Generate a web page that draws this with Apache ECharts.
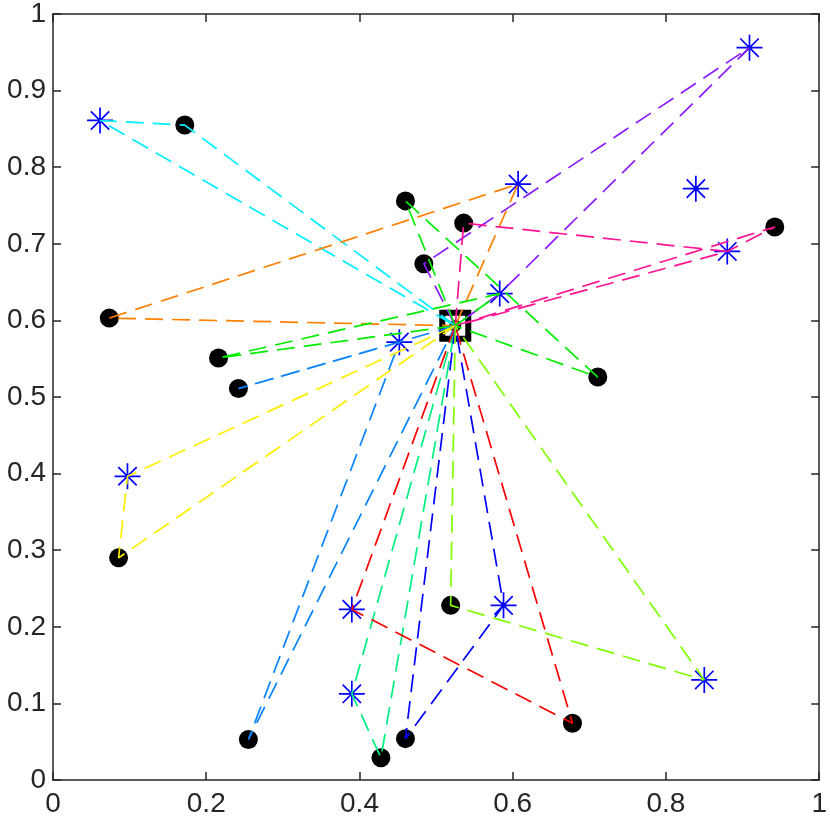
<!DOCTYPE html>
<html>
<head>
<meta charset="utf-8">
<script src="https://cdn.jsdelivr.net/npm/echarts@6/dist/echarts.min.js"></script>
<style>
html, body { margin: 0; padding: 0; background: #fff; }
#chart { width: 830px; height: 827px; }
</style>
</head>
<body>
<div id="chart"></div>
<script>
// depot
let depot = [0.525, 0.593];

// customers (black dots)
let custX = [0.172, 0.0735, 0.460, 0.536, 0.484, 0.216, 0.242, 0.711, 0.942, 0.0856, 0.519, 0.255, 0.460, 0.428, 0.678];
let custY = [0.855, 0.603, 0.756, 0.727, 0.674, 0.551, 0.511, 0.526, 0.722, 0.290, 0.228, 0.0528, 0.054, 0.029, 0.074];

// stations (blue asterisks)
let stationX = [0.0614, 0.909, 0.607, 0.839, 0.880, 0.583, 0.452, 0.0972, 0.390, 0.588, 0.390, 0.850];
let stationY = [0.861, 0.956, 0.778, 0.772, 0.690, 0.635, 0.5716, 0.3965, 0.2227, 0.228, 0.1125, 0.1306];

// routes: D = depot, cN = customer N, sN = station N
let routes = [
    ['D', 'c0', 's0', 'D'],
    ['D', 's2', 'c1', 'D'],
    ['D', 'c4', 's1', 's5', 'D'],
    ['D', 'c3', 's4', 'D', 'c8', 's4'],
    ['D', 'c2', 'c7', 'D'],
    ['D', 'c5', 's5', 'D'],
    ['D', 'c6', 's6', 'c11', 'D'],
    ['D', 's7', 'c9', 'D'],
    ['D', 's10', 'c13', 'D'],
    ['D', 's8', 'c14', 'D'],
    ['D', 'c12', 's9', 'D'],
    ['D', 'c10', 's11', 'D']
];
let routeColors = ['#00eeff', '#ff8000', '#8a1cff', '#ff1493', '#00ee00', '#00ee00',
                   '#0a84ff', '#ffee00', '#00f080', '#ff0000', '#0000ff', '#80ff00'];

// x ticks / y ticks
let xTicks = [0, 0.2, 0.4, 0.6, 0.8, 1];
let yTicks = [0, 0.1, 0.2, 0.3, 0.4, 0.5, 0.6, 0.7, 0.8, 0.9, 1];

function nodePos(id){
    if(id === 'D') return depot;
    let i = +id.slice(1);
    return id[0] === 'c' ? [custX[i], custY[i]] : [stationX[i], stationY[i]];
}

const txt = '#262626';
const fontFam = 'Liberation Sans, Arial, Helvetica, sans-serif';
const star = 'path://M0,-10L0,10M-10,0L10,0M-7.07,-7.07L7.07,7.07M-7.07,7.07L7.07,-7.07';

function axisBase(pos, ticks, showLabel){
    return {
        type: 'value',
        position: pos,
        min: 0,
        max: 1,
        interval: ticks[1] - ticks[0],
        axisLine: { show: true, onZero: false, lineStyle: { color: txt, width: 1.5 } },
        axisTick: { show: true, inside: true, length: 8, lineStyle: { color: txt, width: 1.5 } },
        splitLine: { show: false },
        axisLabel: {
            show: showLabel,
            color: txt,
            fontSize: 28,
            fontFamily: fontFam,
            margin: pos === 'left' ? 7 : 10,
            formatter: v => String(+v.toFixed(1))
        }
    };
}

let chart = echarts.init(document.getElementById('chart'));

let series = [];
series.push({
    type: 'scatter',
    data: custX.map((x, i) => [x, custY[i]]),
    symbol: 'circle',
    symbolSize: 19,
    itemStyle: { color: '#000', opacity: 1 },
    z: 2,
    silent: true
});
series.push({
    type: 'scatter',
    data: stationX.map((x, i) => [x, stationY[i]]),
    symbol: star,
    symbolSize: 26,
    itemStyle: { color: 'rgba(0,0,0,0)', borderColor: '#0000ff', borderWidth: 1.7, opacity: 1 },
    z: 2,
    silent: true
});
series.push({
    type: 'scatter',
    data: [depot],
    symbol: 'rect',
    symbolSize: 26,
    itemStyle: { color: '#fff', borderColor: '#000', borderWidth: 6, opacity: 1 },
    z: 3,
    silent: true
});
series.push({
    type: 'scatter',
    data: [depot],
    symbol: 'circle',
    symbolSize: 12,
    itemStyle: { color: '#000', opacity: 1 },
    z: 3,
    silent: true
});
routes.forEach((r, k) => {
    series.push({
        type: 'line',
        data: r.map(nodePos),
        showSymbol: false,
        symbol: 'none',
        lineStyle: { color: routeColors[k], width: 1.7, type: [18, 9], opacity: 1 },
        z: 4,
        silent: true,
        animation: false
    });
});

chart.setOption({
    animation: false,
    grid: { left: 53, right: 6, top: 9, bottom: 47, containLabel: false },
    xAxis: [axisBase('bottom', xTicks, true), axisBase('top', xTicks, false)],
    yAxis: [axisBase('left', yTicks, true), axisBase('right', yTicks, false)],
    series: series
});
</script>
</body>
</html>
